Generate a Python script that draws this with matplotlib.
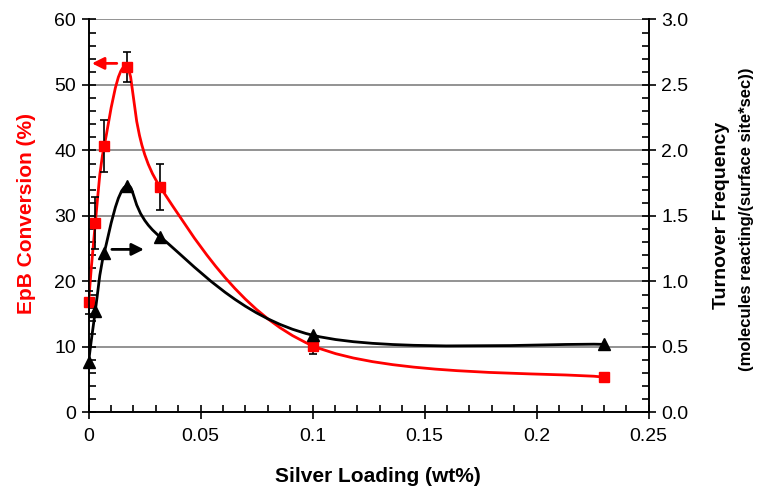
import matplotlib
matplotlib.use('Agg')
import matplotlib.pyplot as plt
from matplotlib.path import Path
from matplotlib.patches import PathPatch
from matplotlib.ticker import MultipleLocator, FormatStrFormatter, FuncFormatter

plt.rcParams['font.family'] = ['Liberation Sans', 'DejaVu Sans']

# silver loading (wt%)
loading = [0.0, 0.003, 0.007, 0.017, 0.032, 0.1, 0.23]
# EpB conversion (%) and error bar half-widths
conversion = [16.8, 28.9, 40.7, 52.7, 34.4, 10.2, 5.4]
conv_err = [1.7, 4.0, 4.0, 2.3, 3.5, 1.2, 0.0]
# turnover frequency (molecules reacting/(surface site*sec))
tof = [0.386, 0.775, 1.22, 1.73, 1.34, 0.59, 0.52]


def smooth_path(xs, ys):
    # Excel-like smoothed line: cubic Bezier segments through the points
    pts = list(zip(xs, ys))
    n = len(pts)
    verts = [pts[0]]
    codes = [Path.MOVETO]
    for i in range(n - 1):
        p0 = pts[max(i - 1, 0)]
        p1 = pts[i]
        p2 = pts[i + 1]
        p3 = pts[min(i + 2, n - 1)]
        c1 = (p1[0] + (p2[0] - p0[0]) / 6, p1[1] + (p2[1] - p0[1]) / 6)
        c2 = (p2[0] - (p3[0] - p1[0]) / 6, p2[1] - (p3[1] - p1[1]) / 6)
        verts += [c1, c2, p2]
        codes += [Path.CURVE4] * 3
    return Path(verts, codes)


fig = plt.figure(figsize=(7.57, 4.87), dpi=100)
ax = fig.add_axes([0.117, 0.153, 0.74, 0.807])
ax2 = ax.twinx()

# left axis: conversion
ax.set_xlim(0, 0.25)
ax.set_ylim(0, 60)
ax.yaxis.set_major_locator(MultipleLocator(10))
ax.yaxis.set_minor_locator(MultipleLocator(2))
ax.xaxis.set_major_locator(MultipleLocator(0.05))
ax.xaxis.set_minor_locator(MultipleLocator(0.01))
ax.xaxis.set_major_formatter(FuncFormatter(lambda v, p: '%g' % round(v, 3)))
ax.grid(axis='y', color='#808080', lw=1.2)
ax.set_axisbelow(True)

ax.add_patch(PathPatch(smooth_path(loading, conversion), fill=False,
                       edgecolor='#ff0000', lw=2.0, zorder=3))
eb = ax.errorbar(loading, conversion, yerr=conv_err, fmt='none', ecolor='black',
                 elinewidth=1.2, capsize=3, capthick=1.2, zorder=4)
for art in eb.lines[1] + eb.lines[2]:
    art.set_clip_on(False)
ax.plot(loading, conversion, ls='none', marker='s', ms=7.5, color='#ff0000',
        zorder=5, clip_on=False)

ax.annotate('', xy=(0.0015, 53.3), xytext=(0.0126, 53.3),
            arrowprops=dict(arrowstyle='-|>', color='#ff0000', lw=2, mutation_scale=18,
                            shrinkA=0, shrinkB=0))
ax.annotate('', xy=(0.0247, 24.9), xytext=(0.0104, 24.9),
            arrowprops=dict(arrowstyle='-|>', color='black', lw=2, mutation_scale=18,
                            shrinkA=0, shrinkB=0))

# right axis: turnover frequency
ax2.set_ylim(0, 3.0)
ax2.yaxis.set_major_locator(MultipleLocator(0.5))
ax2.yaxis.set_minor_locator(MultipleLocator(0.1))
ax2.yaxis.set_major_formatter(FormatStrFormatter('%.1f'))
ax2.add_patch(PathPatch(smooth_path(loading, tof), fill=False,
                        edgecolor='black', lw=2.0, zorder=3))
ax2.plot(loading, tof, ls='none', marker='^', ms=8, color='black', zorder=5, clip_on=False)

for a in (ax, ax2):
    a.spines['top'].set_visible(False)
    for s in a.spines.values():
        s.set_linewidth(1.2)
    a.tick_params(which='major', direction='inout', length=10, width=1.2, labelsize=14)
    a.tick_params(which='minor', direction='in', length=5, width=1.2)
ax.tick_params(axis='y', pad=4)
ax.tick_params(axis='x', pad=6)
ax2.tick_params(axis='y', pad=4)

fig.text(378 / 757, 1 - 477 / 487, 'Silver Loading (wt%)', ha='center', va='center',
         fontsize=15, fontweight='bold')
fig.text(27 / 757, 1 - 213 / 487, 'EpB Conversion (%)', rotation=90, ha='center', va='center',
         fontsize=15, fontweight='bold', color='#ff0000')
fig.text(722 / 757, 1 - 215 / 487, 'Turnover Frequency', rotation=90, ha='center', va='center',
         fontsize=14, fontweight='bold')
fig.text(746 / 757, 1 - 219 / 487, '(molecules reacting/(surface site*sec))', rotation=90,
         ha='center', va='center', fontsize=12, fontweight='bold')

fig.savefig('out.png', dpi=100)
